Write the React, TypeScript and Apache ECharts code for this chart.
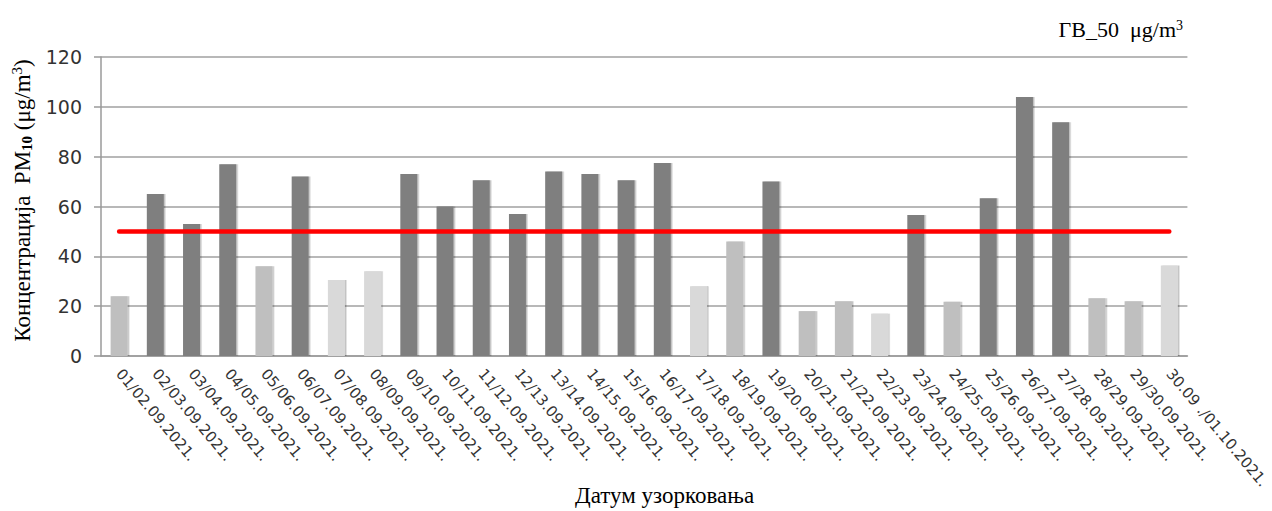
import React, { useEffect, useRef } from "react";
import * as echarts from "echarts";

const categories = [
  "01/02.09.2021.", "02/03.09.2021.", "03/04.09.2021.", "04/05.09.2021.", "05/06.09.2021.",
  "06/07.09.2021.", "07/08.09.2021.", "08/09.09.2021.", "09/10.09.2021.", "10/11.09.2021.",
  "11/12.09.2021.", "12/13.09.2021.", "13/14.09.2021.", "14/15.09.2021.", "15/16.09.2021.",
  "16/17.09.2021.", "17/18.09.2021.", "18/19.09.2021.", "19/20.09.2021.", "20/21.09.2021.",
  "21/22.09.2021.", "22/23.09.2021.", "23/24.09.2021.", "24/25.09.2021.", "25/26.09.2021.",
  "26/27.09.2021.", "27/28.09.2021.", "28/29.09.2021.", "29/30.09.2021.", "30.09 ./01.10.2021.",
];

const pm10Values = [
  24, 65, 53, 77, 36, 72, 30.5, 34, 73, 60,
  70.5, 57, 74, 73, 70.5, 77.5, 28, 46, 70, 18,
  22, 17, 56.6, 21.8, 63.3, 103.9, 93.8, 23.2, 22, 36.3,
];

// bar shade group per sample: "over" = above limit, "mid", "light"
const shadeGroups = [
  "mid", "over", "over", "over", "mid", "over", "light", "light", "over", "over",
  "over", "over", "over", "over", "over", "over", "light", "mid", "over", "mid",
  "mid", "light", "over", "mid", "over", "over", "over", "mid", "mid", "light",
];

const limitValue = 50;
const yTicks = [0, 20, 40, 60, 80, 100, 120];

const shadeColors: Record<string, string> = {
  over: "#7f7f7f",
  mid: "#bfbfbf",
  light: "#d9d9d9",
};

export default function App() {
  const ref = useRef<HTMLDivElement>(null);
  useEffect(() => {
    if (!ref.current) return;
    const chart = echarts.init(ref.current, null, { renderer: "svg" });
    const serif = "'Liberation Serif', 'Times New Roman', serif";
    const sans = "'DejaVu Sans', Verdana, sans-serif";
    chart.setOption({
      animation: false,
      backgroundColor: "#ffffff",
      title: {
        text: "ГВ_50  μg/m{sup|3}",
        right: 84,
        top: 13,
        textStyle: {
          fontFamily: serif,
          fontSize: 22,
          fontWeight: "normal",
          color: "#000",
          rich: {
            sup: { fontFamily: serif, fontSize: 14, color: "#000", padding: [0, 0, 9, 0] },
          },
        },
      },
      grid: { left: 101, right: 71, top: 57, bottom: 155, containLabel: false },
      xAxis: {
        type: "category",
        data: categories,
        axisLine: { show: true, lineStyle: { color: "#9a9a9a", width: 1.5 } },
        axisTick: { show: false },
        axisLabel: {
          interval: 0,
          rotate: -50,
          margin: 15,
          fontFamily: sans,
          fontSize: 15,
          color: "#333",
        },
      },
      yAxis: {
        type: "value",
        min: yTicks[0],
        max: yTicks[yTicks.length - 1],
        interval: 20,
        name: "Концентрација  PM{sub|10} (μg/m{sup|3})",
        nameLocation: "middle",
        nameRotate: 90,
        nameGap: 64,
        nameTextStyle: {
          fontFamily: serif,
          fontSize: 23,
          color: "#000",
          padding: [0, 0, 0, 12],
          rich: {
            sub: { fontFamily: serif, fontSize: 15, fontWeight: "bold", color: "#000", padding: [10, 0, 0, 0] },
            sup: { fontFamily: serif, fontSize: 15, color: "#000", padding: [0, 0, 10, 0] },
          },
        },
        axisLine: { show: true, lineStyle: { color: "#9a9a9a", width: 1.5 } },
        axisTick: { show: true, length: 7, lineStyle: { color: "#9a9a9a", width: 1.5 } },
        axisLabel: { fontFamily: sans, fontSize: 19, color: "#333", margin: 19 },
        splitLine: { show: true, lineStyle: { color: "#a0a0a0", width: 1.5 } },
      },
      graphic: [
        {
          type: "text",
          left: 575,
          top: 484,
          style: {
            text: "Датум узорковања",
            fontFamily: serif,
            fontSize: 23,
            fill: "#000",
          },
        },
      ],
      series: [
        {
          type: "bar",
          barWidth: 17,
          data: pm10Values.map((v, i) => ({
            value: v,
            itemStyle: { color: shadeColors[shadeGroups[i]] },
          })),
          itemStyle: {
            shadowColor: "rgba(0,0,0,0.25)",
            shadowOffsetX: 1.5,
            shadowBlur: 1,
          },
          z: 2,
        },
        {
          type: "line",
          data: categories.map(() => limitValue),
          symbol: "none",
          lineStyle: { color: "#ff0000", width: 4.5, cap: "round" },
          z: 3,
        },
      ],
    });
    return () => chart.dispose();
  }, []);
  return (
    <div
      ref={ref}
      style={{ position: "absolute", left: 0, top: 0, width: 1272, height: 511 }}
    />
  );
}
